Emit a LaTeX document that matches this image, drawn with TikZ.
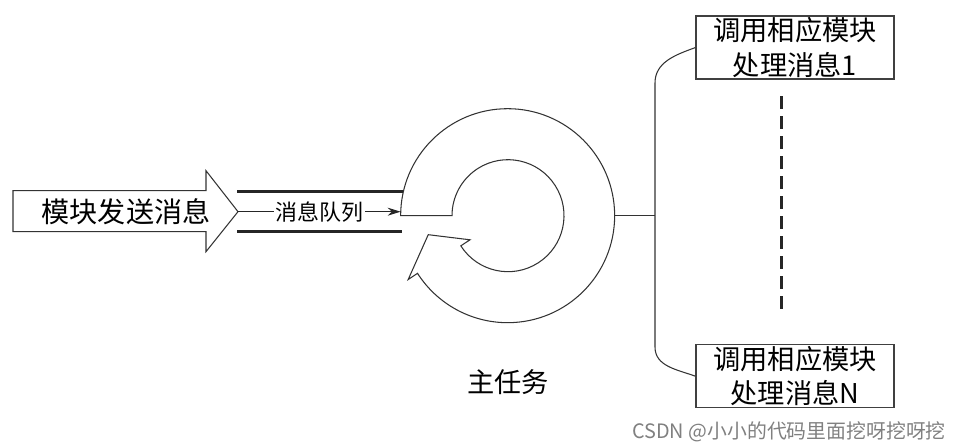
\documentclass[tikz,border=0pt]{standalone}
\usepackage{fontspec}
\setmainfont{Noto Sans CJK SC}
\usepackage{tikz}
\usetikzlibrary{arrows.meta,positioning,calc}

\begin{document}
\begin{tikzpicture}[
    outline/.style={draw=black!80, line width=0.6pt},
    queue/.style={draw=black!85, line width=1.6pt},
    modbox/.style={draw=black!75, line width=0.9pt, minimum width=3.96cm, minimum height=1.26cm, inner sep=1pt, align=center, font=\fontsize{15.5}{19.5}\selectfont},
    arrow/.style={-{Stealth[length=2.6mm,width=1.6mm]}, draw=black!85, line width=0.6pt}
]
    \useasboundingbox (0,0) rectangle (19.22,8.96);

    % sender arrow
    \draw[outline] (0.26,5.146) -- (4.12,5.146) -- (4.12,5.546) -- (4.76,4.726)
        -- (4.12,3.926) -- (4.12,4.326) -- (0.26,4.326) -- cycle;
    \coordinate (tip) at (4.76,4.726);
    \node[font=\fontsize{16}{16}\selectfont] (sender) at (2.52,4.726) {模块发送消息};

    % main task ring
    \node[circle, minimum size=4.28cm, inner sep=0pt] (ring) at (10.16,4.646) {};
    \draw[outline] (ring.west) arc[start angle=180, end angle=-147.4, radius=2.14cm]
        -- ($(ring)+(-147.4:2.37)$) -- ($(ring)+(-166.6:1.64)$)
        -- ($(ring)+(-147.6:0.90)$) -- ($(ring)+(-147.4:1.12)$)
        arc[start angle=-147.4, end angle=180, radius=1.12cm] -- cycle;
    \node[font=\fontsize{15.5}{15.5}\selectfont] (task) at (10.16,1.32) {主任务};

    % message queue
    \draw[queue] (4.74,5.126) -- (8.06,5.126);
    \draw[queue] (4.74,4.326) -- (8.04,4.326);
    \draw[arrow] (tip) -- (tip -| ring.west)
        node[midway, fill=white, inner sep=1pt, font=\fontsize{12.5}{12.5}\selectfont] (queuelbl) {消息队列};

    % handler modules
    \node[modbox] (mod1) at (15.90,8.007) {调用相应模块\\处理消息1};
    \node[modbox] (modN) at (15.90,1.437) {调用相应模块\\处理消息N};
    \coordinate (fork) at (13.10,4.646);

    \draw[outline] (ring.east) -- (fork);
    \draw[outline] (mod1.west) to[out=200, in=90] (13.10,7.30) -- (13.10,2.02)
        to[out=-90, in=160] (modN.west);
    \draw[draw=black!85, line width=1.5pt, dash pattern=on 0.26cm off 0.14cm]
        (15.63,7.03) -- (15.63,2.66);

    % watermark
    \node[text=black!50, font=\fontsize{11.3}{11.3}\selectfont] (mark) at (15.78,0.33) {CSDN @小小的代码里面挖呀挖呀挖};
\end{tikzpicture}
\end{document}
